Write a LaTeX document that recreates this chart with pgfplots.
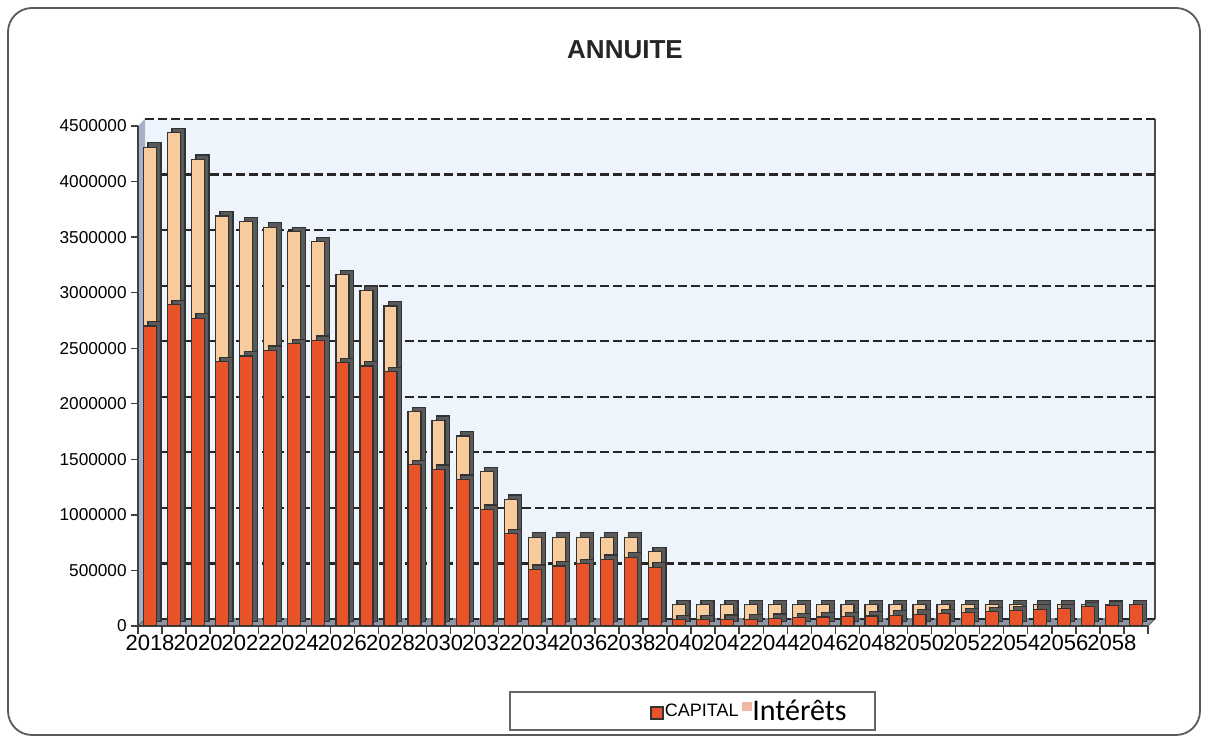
\documentclass[border=0pt]{standalone}
\usepackage{fontspec}
\setmainfont{Liberation Sans}
\newfontfamily\carlito{Carlito}
\usepackage{pgfplots}
\pgfplotsset{compat=1.18}
\usetikzlibrary{shadows}

\definecolor{capital}{HTML}{E8532A}
\definecolor{interet}{HTML}{F7CB9C}
\definecolor{interetleg}{HTML}{F2B7A2}
\definecolor{mur}{HTML}{EEF4FB}
\definecolor{murgauche}{HTML}{A7B0C6}
\definecolor{sol}{HTML}{8E96A6}

% index, capital, interets (annees 2018 a 2059)
\pgfplotstableread{
i cap int
0 2700000 1610000
1 2890000 1550000
2 2770000 1430000
3 2380000 1310000
4 2430000 1210000
5 2480000 1110000
6 2540000 1010000
7 2570000 890000
8 2370000 790000
9 2340000 680000
10 2290000 590000
11 1450000 480000
12 1410000 440000
13 1320000 390000
14 1050000 340000
15 830000 310000
16 510000 290000
17 540000 260000
18 560000 240000
19 600000 200000
20 620000 180000
21 530000 140000
22 55000 135000
23 55000 135000
24 60000 130000
25 62000 128000
26 69000 121000
27 75000 115000
28 81000 109000
29 85000 105000
30 90000 100000
31 97000 93000
32 106000 84000
33 112000 78000
34 121000 69000
35 130000 60000
36 136000 54000
37 151000 39000
38 157000 33000
39 172000 18000
40 181000 9000
41 190000 0
}\annuite

\begin{document}
\begin{tikzpicture}
\useasboundingbox (0pt,0pt) rectangle (603.5pt,369pt);
% cadre du graphique
\draw[black!65, line width=0.9pt, rounded corners=12pt] (4pt,1.5pt) rectangle (600pt,365pt);
\node[font=\bfseries\fontsize{13}{15}\selectfont, text=black!85] at (312.5pt,344pt) {ANNUITE};

% parois 3D
\fill[mur] (72.5pt,59.5pt) rectangle (577.5pt,309.5pt);
\draw[black!70, line width=0.8pt] (577.5pt,59.5pt) -- (577.5pt,309.5pt);
\fill[murgauche] (69pt,56pt) -- (72.5pt,59.5pt) -- (72.5pt,309.5pt) -- (69pt,306pt) -- cycle;
\filldraw[fill=sol, draw=black!65, line width=0.5pt] (69pt,56pt) -- (574pt,56pt) -- (577.5pt,59.5pt) -- (72.5pt,59.5pt) -- cycle;

% legende
\draw[black!60, line width=0.6pt] (255pt,4pt) rectangle (437.5pt,23pt);

\begin{axis}[
    at={(69pt,56pt)}, anchor=south west,
    scale only axis, width=505pt, height=250pt,
    ybar stacked, bar width=6.5pt,
    xmin=-0.5, xmax=41.5, ymin=0, ymax=4500000,
    axis x line*=bottom, axis y line*=left,
    axis line style={black!75, line width=0.8pt},
    xtick={0,2,...,40},
    xticklabels={2018,2020,2022,2024,2026,2028,2030,2032,2034,2036,2038,2040,2042,2044,2046,2048,2050,2052,2054,2056,2058},
    major x tick style={draw=none},
    minor xtick={-0.5,0.5,...,41.5},
    minor tick length=4pt,
    tick align=outside,
    major tick length=3.5pt,
    tick style={black!75, line width=0.7pt},
    ytick={0,500000,...,4500000},
    scaled y ticks=false,
    /pgf/number format/fixed,
    /pgf/number format/1000 sep={},
    /pgf/number format/assume math mode=true,
    xticklabel style={font=\fontsize{11}{12}\selectfont, inner sep=1pt},
    yticklabel style={font=\fontsize{8.6}{10}\selectfont, inner sep=2pt},
    ymajorgrids,
    major grid style={black!85, line width=1.1pt, dash pattern=on 4.5pt off 2pt, xshift=3.5pt, yshift=3.5pt},
    legend columns=2,
    legend style={draw=none, fill=none, at={(axis description cs:0.605,-0.172)}, anchor=center,
        /tikz/every even column/.append style={column sep=1pt},
        inner sep=0pt, nodes={inner sep=0.5pt}},
]
\addplot[forget plot, fill=capital, draw=black!80, line width=0.6pt,
    drop shadow={shadow xshift=2.2pt, shadow yshift=2.2pt, fill=black!65, opacity=1}]
    table[x=i, y=cap] {\annuite};
\addplot[forget plot, fill=interet, draw=black!80, line width=0.6pt,
    drop shadow={shadow xshift=2.2pt, shadow yshift=2.2pt, fill=black!65, opacity=1}]
    table[x=i, y=int] {\annuite};
\addlegendimage{legend image code/.code={\filldraw[fill=capital, draw=black!80, line width=0.7pt] (0pt,-3.5pt) rectangle (6pt,2.5pt);}}
\addlegendentry{\fontsize{9}{10}\selectfont CAPITAL}
\addlegendimage{legend image code/.code={\fill[interetleg] (0pt,1pt) rectangle (4.5pt,5pt);}}
\addlegendentry{\carlito\fontsize{15}{16}\selectfont Intérêts}
\end{axis}
\end{tikzpicture}
\end{document}
